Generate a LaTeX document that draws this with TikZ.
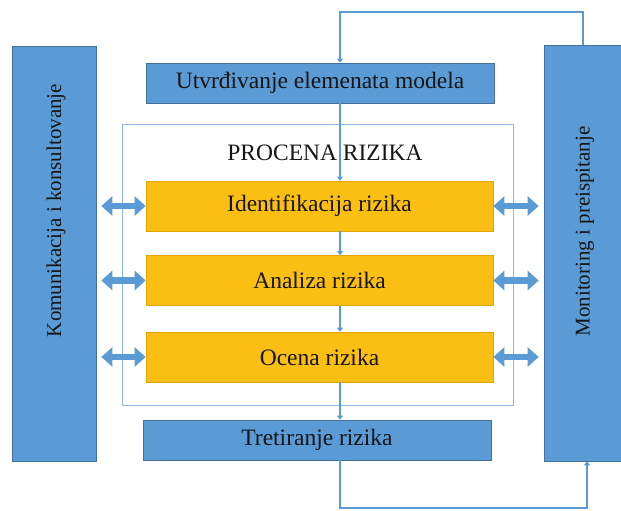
\documentclass[tikz,border=0pt]{standalone}
\usepackage{fontspec}
\setmainfont{Liberation Serif}
\usetikzlibrary{arrows.meta}
\definecolor{bfill}{HTML}{5B9BD5}
\definecolor{bdraw}{HTML}{41719C}
\definecolor{ofill}{HTML}{FBBF14}
\definecolor{odraw}{HTML}{E0A500}
\definecolor{lline}{HTML}{8DB8E2}
\definecolor{cline}{HTML}{5B9BD5}
\definecolor{tcol}{HTML}{151515}
\begin{document}
\begin{tikzpicture}[x=1pt,y=-1pt,
  txt/.style={font=\fontsize{23.5}{26}\selectfont, text=tcol},
  sidetxt/.style={font=\fontsize{21}{24}\selectfont, text=tcol, rotate=90},
  bluebox/.style={draw=bdraw, fill=bfill, line width=0.7pt, inner sep=0pt},
  orbox/.style={draw=odraw, fill=ofill, line width=0.7pt, inner sep=0pt, minimum width=347pt, minimum height=50pt, txt},
  conn/.style={draw=cline, line width=1.1pt, -{Triangle[width=6pt,length=4pt]}},
  dbl/.style={draw=bfill, line width=6.5pt, {Triangle[width=19pt,length=11pt]}-{Triangle[width=19pt,length=11pt]}}
]
\useasboundingbox (0,0) rectangle (621,511);
% side bars
\node[bluebox, minimum width=84pt, minimum height=415pt] (kom) at (54,253.5) {};
\node[sidetxt] (komt) at (56,210.5) {Komunikacija i konsultovanje};
\node[bluebox, minimum width=80pt, minimum height=416pt] (mon) at (584,253) {};
\node[sidetxt] (mont) at (585,231.5) {Monitoring i preispitanje};
% top box
\node[bluebox, minimum width=348pt, minimum height=40pt, txt] (utv) at (320,83) {Utvrđivanje elemenata modela};
% procena outline
\node[draw=lline, line width=1pt, minimum width=391pt, minimum height=281pt, inner sep=0pt] (proc) at (317.5,264.5) {};
\node[txt] (proct) at (325,153) {PROCENA RIZIKA};
% orange boxes
\node[orbox] (ide) at (319.5,206) {Identifikacija rizika};
\node[orbox] (ana) at (319.5,280.5) {Analiza rizika};
\node[orbox] (oce) at (319.5,357) {Ocena rizika};
% bottom box
\node[bluebox, minimum width=348pt, minimum height=40pt, txt] (tre) at (317,440) {Tretiranje rizika};
% coordinates for connectors
\coordinate (c1) at (340,12);
\coordinate (c2) at (583,12);
\coordinate (b1) at (340,508);
\coordinate (b2) at (587,508);
% top loop
\draw[conn] (mon.north -| c2) -- (c2) -- (c1) -- (utv.north -| c1);
% vertical flow
\draw[conn] (utv.south -| c1) -- (ide.north -| c1);
\draw[conn] (ide.south -| c1) -- (ana.north -| c1);
\draw[conn] (ana.south -| c1) -- (oce.north -| c1);
\draw[conn] (oce.south -| c1) -- (tre.north -| c1);
% bottom loop
\draw[conn] (tre.south -| b1) -- (b1) -- (b2) -- (mon.south -| b2);
% double arrows
\foreach \b in {ide,ana,oce}{
  \draw[dbl, shorten <=5pt] (kom.east |- \b.west) -- (\b.west);
  \draw[dbl, shorten >=5pt] (\b.east) -- (mon.west |- \b.east);
}
\end{tikzpicture}
\end{document}
